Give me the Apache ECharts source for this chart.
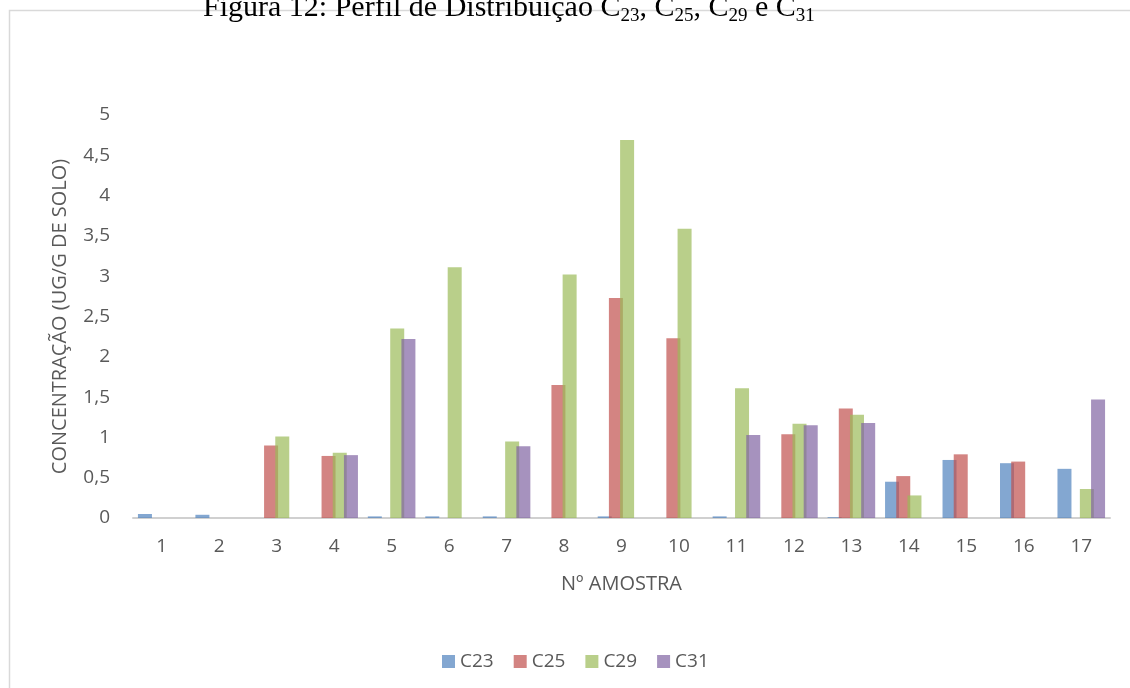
<!DOCTYPE html>
<html>
<head>
<meta charset="utf-8">
<script src="https://cdn.jsdelivr.net/npm/echarts@6/dist/echarts.min.js"></script>
<style>
  html, body { margin: 0; padding: 0; background: #fff; }
  #chart { width: 1130px; height: 688px; }
</style>
</head>
<body>
<div id="chart"></div>
<script>
const categories = ['1', '2', '3', '4', '5', '6', '7', '8', '9', '10', '11', '12', '13', '14', '15', '16', '17']
const c23 = [0.05, 0.04, 0, 0, 0.02, 0.02, 0.02, 0, 0.02, 0, 0.02, 0, 0.01, 0.45, 0.72, 0.68, 0.61]
const c25 = [0, 0, 0.9, 0.77, 0, 0, 0, 1.65, 2.73, 2.23, 0, 1.04, 1.36, 0.52, 0.79, 0.7, 0]
const c29 = [0, 0, 1.01, 0.81, 2.35, 3.11, 0.95, 3.02, 4.69, 3.59, 1.61, 1.17, 1.28, 0.28, 0, 0, 0.36]
const c31 = [0, 0, 0, 0.78, 2.22, 0, 0.89, 0, 0, 0, 1.03, 1.15, 1.18, 0, 0, 0, 1.47]
const yTicks = ['0', '0,5', '1', '1,5', '2', '2,5', '3', '3,5', '4', '4,5', '5']

const seriesDefs = [
  { name: 'C23', data: c23, color: '#4F81BD' },
  { name: 'C25', data: c25, color: '#C0504D' },
  { name: 'C29', data: c29, color: '#9BBB59' },
  { name: 'C31', data: c31, color: '#8064A2' },
]

const font = '"Open Sans", sans-serif'
const serif = '"Liberation Serif", serif'
const textColor = '#595959'

const chart = echarts.init(document.getElementById('chart'))
chart.setOption({
  backgroundColor: '#fff',
  animation: false,
  title: {
    left: 203,
    top: -10,
    padding: 0,
    text: '{a|Figura 12: Perfil de Distribuição C}{s|23}{a|, C}{s|25}{a|, C}{s|29}{a| e C}{s|31}',
    textStyle: {
      fontWeight: 'normal',
      rich: {
        a: { fontFamily: serif, fontSize: 30, fontWeight: 'normal', color: '#000', lineHeight: 36 },
        s: { fontFamily: serif, fontSize: 19, fontWeight: 'normal', color: '#000', lineHeight: 16, verticalAlign: 'bottom' },
      },
    },
  },
  graphic: [
    {
      type: 'rect',
      z: -1,
      shape: { x: 9.5, y: 10.5, width: 1200, height: 800 },
      style: { fill: 'none', stroke: '#d9d9d9', lineWidth: 1.5 },
      silent: true,
    },
  ],
  legend: {
    left: 437,
    top: 647,
    itemWidth: 13,
    itemHeight: 13,
    itemGap: 20,
    icon: 'rect',
    textStyle: { color: textColor, fontSize: 19, fontFamily: font },
    data: seriesDefs.map((s) => s.name),
  },
  grid: { left: 133, right: 20, top: 115, bottom: 170 },
  xAxis: {
    type: 'category',
    data: categories,
    name: 'Nº AMOSTRA',
    nameLocation: 'middle',
    nameGap: 56,
    nameTextStyle: { color: textColor, fontSize: 20, fontFamily: font },
    axisLine: { lineStyle: { color: '#d0d0d0', width: 2 } },
    axisTick: { show: false },
    axisLabel: { color: textColor, fontSize: 19, fontFamily: font, margin: 19 },
  },
  yAxis: {
    type: 'value',
    min: 0,
    max: 5,
    interval: 0.5,
    name: 'CONCENTRAÇÃO (UG/G DE SOLO)',
    nameLocation: 'middle',
    nameGap: 63,
    nameTextStyle: { color: textColor, fontSize: 20, fontFamily: font },
    axisLine: { show: false },
    axisTick: { show: false },
    splitLine: { show: false },
    axisLabel: {
      color: textColor,
      fontSize: 19,
      fontFamily: font,
      margin: 23,
      formatter: (v) => yTicks[Math.round(v * 2)],
    },
  },
  series: seriesDefs.map((s) => ({
    type: 'bar',
    name: s.name,
    data: s.data,
    barWidth: 14,
    barGap: '-20%',
    itemStyle: { color: s.color, opacity: 0.7 },
  })),
})
</script>
</body>
</html>
